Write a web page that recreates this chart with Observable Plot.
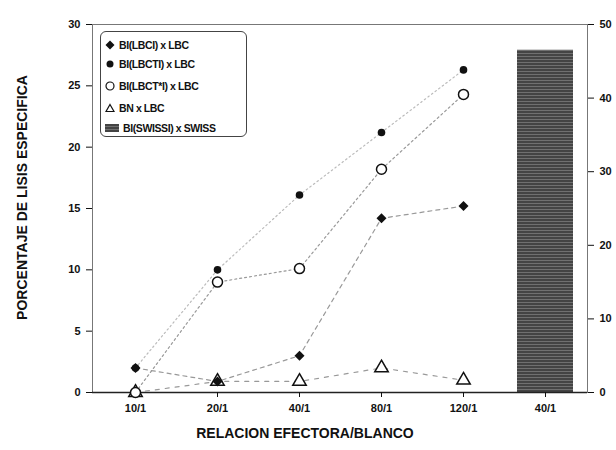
<!DOCTYPE html>
<html><head><meta charset="utf-8">
<script src="https://cdn.jsdelivr.net/npm/d3@7"></script>
<script src="https://cdn.jsdelivr.net/npm/@observablehq/plot@0.6"></script>
<style>
body{margin:0;background:#fff;font-family:"Liberation Sans",Arial,sans-serif;}
#wrap{position:relative;width:616px;height:450px;}
#legend{position:absolute;left:100px;top:31px;width:147px;height:106px;border:1px solid #444;border-radius:6px;background:#fff;box-sizing:border-box;}
.item{position:absolute;left:4px;display:flex;align-items:center;font-size:10.5px;font-weight:bold;letter-spacing:-0.4px;color:#111;white-space:nowrap;}
.item svg{margin-right:4px;}
</style></head><body><div id="wrap"><div id="legend"></div></div>
<script>
const categories = ["10/1", "20/1", "40/1", "80/1", "120/1"];
const barCategory = "40/1 SWISS";
const tickLabels = ["10/1", "20/1", "40/1", "80/1", "120/1", "40/1"];
const lbci = [2.0, 0.9, 3.0, 14.2, 15.2];
const lbcti = [2.0, 10.0, 16.1, 21.2, 26.3];
const lbctStar = [0.0, 9.0, 10.1, 18.2, 24.3];
const bn = [0.0, 0.9, 0.9, 2.0, 1.0];
const swissValue = 46.5;              // right axis (0-50)
const leftTicks = [0, 5, 10, 15, 20, 25, 30];
const rightTicks = [0, 10, 20, 30, 40, 50];
const seriesNames = ["BI(LBCI) x LBC", "BI(LBCTI) x LBC", "BI(LBCT*I) x LBC", "BN x LBC", "BI(SWISSI) x SWISS"];

const rightMax = 50, leftMax = 30;
const toLeft = v => v * leftMax / rightMax;
const xDomain = [...categories, barCategory];

const mk = (vals, name) => categories.map((c, i) => ({x: c, y: vals[i], s: name}));
const dLbci = mk(lbci, seriesNames[0]);
const dLbcti = mk(lbcti, seriesNames[1]);
const dStar = mk(lbctStar, seriesNames[2]);
const dBn = mk(bn, seriesNames[3]);
const dBar = [{x: barCategory, y: toLeft(swissValue)}];

const font = '"Liberation Sans", Arial, sans-serif';

const chart = Plot.plot({
  width: 616, height: 450,
  marginLeft: 92, marginRight: 29, marginTop: 24, marginBottom: 58,
  style: {fontFamily: font, background: "white", color: "#111"},
  x: {type: "band", domain: xDomain, padding: 0},
  y: {domain: [0, leftMax]},
  marks: [
    Plot.barY(dBar, {x: "x", y: "y", fill: "url(#stripes)", insetLeft: 13, insetRight: 13}),
    Plot.frame({stroke: "#777", strokeWidth: 1}),
    Plot.ruleY([0], {stroke: "#222", strokeWidth: 1.5}),
    Plot.axisY({ticks: leftTicks, tickSize: 6, tickPadding: 6, fontSize: 11, fontWeight: "bold", label: null}),
    Plot.axisY({anchor: "right", ticks: rightTicks.map(toLeft), tickFormat: d => Math.round(d * rightMax / leftMax), tickSize: 6, tickPadding: 6, fontSize: 11, fontWeight: "bold", label: null}),
    Plot.axisX({tickSize: 5, tickPadding: 7, fontSize: 11, fontWeight: "bold", tickFormat: d => tickLabels[xDomain.indexOf(d)], label: null}),
    Plot.line(dLbcti, {x: "x", y: "y", stroke: "#bbb", strokeWidth: 1.2, strokeDasharray: "1.5,3"}),
    Plot.line(dStar, {x: "x", y: "y", stroke: "#999", strokeWidth: 1.2, strokeDasharray: "2,3"}),
    Plot.line(dLbci, {x: "x", y: "y", stroke: "#999", strokeWidth: 1.2, strokeDasharray: "4,4"}),
    Plot.line(dBn, {x: "x", y: "y", stroke: "#999", strokeWidth: 1.2, strokeDasharray: "4,6"}),
    Plot.dot(dBn, {x: "x", y: "y", symbol: "triangle", r: 5, stroke: "#111", strokeWidth: 1.5, fill: "white"}),
    Plot.dot(dStar, {x: "x", y: "y", symbol: "circle", r: 5, stroke: "#111", strokeWidth: 1.5, fill: "white"}),
    Plot.dot(dLbcti, {x: "x", y: "y", symbol: "circle", r: 3.8, fill: "#111"}),
    Plot.dot(dLbci, {x: "x", y: "y", symbol: "diamond2", r: 4.5, fill: "#111"}),
    Plot.text(["PORCENTAJE DE LISIS ESPECIFICA"], {frameAnchor: "left", textAnchor: "middle", rotate: -90, dx: -70, dy: -11, fontSize: 14, fontWeight: "bold", fill: "#111"}),
    Plot.text(["RELACION EFECTORA/BLANCO"], {frameAnchor: "bottom", textAnchor: "middle", dx: -35, dy: 45, fontSize: 14, fontWeight: "bold", fill: "#111"})
  ]
});

// stripe pattern for the SWISS bar
const svgNS = "http://www.w3.org/2000/svg";
const defs = document.createElementNS(svgNS, "defs");
defs.innerHTML = '<pattern id="stripes" patternUnits="userSpaceOnUse" width="6" height="3"><rect width="6" height="3" fill="#707070"/><rect width="6" height="2" fill="#444"/></pattern>';
chart.insertBefore(defs, chart.firstChild);
document.getElementById("wrap").insertBefore(chart, document.getElementById("legend"));
chart.style.position = "absolute"; chart.style.left = "0"; chart.style.top = "0";

// legend
const icons = [
  '<svg width="10" height="10"><path d="M5 0.5 L9.5 5 L5 9.5 L0.5 5Z" fill="#111"/></svg>',
  '<svg width="10" height="10"><circle cx="5" cy="5" r="3.5" fill="#111"/></svg>',
  '<svg width="10" height="10"><circle cx="5" cy="5" r="4" fill="white" stroke="#111" stroke-width="1.2"/></svg>',
  '<svg width="10" height="10"><path d="M5 1.5 L9 8.5 L1 8.5Z" fill="white" stroke="#111" stroke-width="1.2"/></svg>',
  '<svg width="14" height="8"><rect width="14" height="8" fill="url(#stripes)"/></svg>'
];
const tops = [7, 26, 48, 70, 90];
const leg = document.getElementById("legend");
seriesNames.forEach((n, i) => {
  const d = document.createElement("div");
  d.className = "item";
  d.style.top = tops[i] + "px";
  d.innerHTML = icons[i] + '<span>' + n + '</span>';
  leg.appendChild(d);
});
</script></body></html>
